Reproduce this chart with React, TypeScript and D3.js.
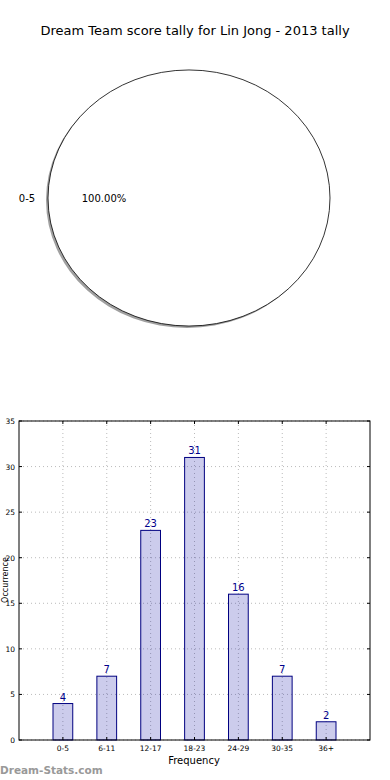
import React from "react";
import * as d3 from "d3";

const title = "Dream Team score tally for Lin Jong - 2013 tally";
const pieLabels = ["0-5"];
const pieValues = [1];
const categories = ["0-5", "6-11", "12-17", "18-23", "24-29", "30-35", "36+"];
const counts = [4, 7, 23, 31, 16, 7, 2];
const yTicks = [0, 5, 10, 15, 20, 25, 30, 35];

export default function App() {
  const W = 390, H = 780;
  const font = "DejaVu Sans, sans-serif";

  // pie
  const cx = 189, cy = 198, rx = 141, ry = 128;
  const pie = d3.pie<number>().sort(null).startAngle(-Math.PI / 2).endAngle(1.5 * Math.PI)(pieValues);
  const arc = d3.arc<d3.PieArcDatum<number>>().innerRadius(0).outerRadius(rx);
  const total = d3.sum(pieValues);

  // bar
  const left = 19, right = 370, top = 421, bottom = 740;
  const x = d3.scaleLinear().domain([-1, categories.length]).range([left, right]);
  const y = d3.scaleLinear().domain([0, 35]).range([bottom, top]);
  const bw = (x(0.45) - x(0));

  return (
    <svg width={W} height={H} style={{ position: "absolute", left: 0, top: 0, background: "#fff" }} fontFamily={font}>
      <rect width={W} height={H} fill="#fff" />
      <text x={195} y={35} textAnchor="middle" fontSize={13} fill="#000">{title}</text>

      {/* pie shadow */}
      <g transform={`translate(${cx - 2},${cy + 2}) scale(1,${ry / rx})`}>
        {pie.map((d, i) => (
          <path key={i} d={arc(d) || ""} fill="#888" opacity={0.8} />
        ))}
      </g>
      <g transform={`translate(${cx},${cy}) scale(1,${ry / rx})`}>
        {pie.map((d, i) => (
          <path key={i} d={arc(d) || ""} fill="#fff" stroke="#000" strokeWidth={0.8} vectorEffect="non-scaling-stroke" />
        ))}
      </g>
      {pie.map((d, i) => (
        <g key={i}>
          <text x={27} y={cy + 4} textAnchor="middle" fontSize={10}>{pieLabels[i]}</text>
          <text x={104} y={cy + 4} textAnchor="middle" fontSize={10}>
            {((pieValues[i] / total) * 100).toFixed(2) + "%"}
          </text>
        </g>
      ))}

      {/* grid */}
      {yTicks.map((t) => (
        <line key={"gy" + t} x1={left} x2={right} y1={y(t)} y2={y(t)} stroke="#bbb" strokeWidth={1} strokeDasharray="1,3" />
      ))}
      {categories.map((c, i) => (
        <line key={"gx" + c} x1={x(i)} x2={x(i)} y1={top} y2={bottom} stroke="#bbb" strokeWidth={1} strokeDasharray="1,3" />
      ))}

      {/* bars */}
      {counts.map((v, i) => (
        <rect key={"b" + i} x={x(i) - bw / 2} y={y(v)} width={bw} height={y(0) - y(v)}
          fill="#0000a0" fillOpacity={0.2} stroke="#000080" strokeWidth={1} />
      ))}
      {counts.map((v, i) => (
        <text key={"l" + i} x={x(i)} y={y(v) - 3} textAnchor="middle" fontSize={10} fill="#00008b">{v}</text>
      ))}

      {/* frame */}
      <rect x={left} y={top} width={right - left} height={bottom - top} fill="none" stroke="#000" strokeWidth={1} />

      {/* y ticks */}
      {yTicks.map((t) => (
        <g key={"yt" + t}>
          <line x1={left} x2={left + 3} y1={y(t)} y2={y(t)} stroke="#000" />
          <line x1={right - 3} x2={right} y1={y(t)} y2={y(t)} stroke="#000" />
          <text x={left - 4} y={y(t) + 3} textAnchor="end" fontSize={7.5}>{t}</text>
        </g>
      ))}
      {categories.map((c, i) => (
        <g key={"xt" + c}>
          <line x1={x(i)} x2={x(i)} y1={bottom} y2={bottom - 3} stroke="#000" />
          <line x1={x(i)} x2={x(i)} y1={top} y2={top + 3} stroke="#000" />
          <text x={x(i)} y={bottom + 11} textAnchor="middle" fontSize={7.5}>{c}</text>
        </g>
      ))}
      <text x={194} y={764} textAnchor="middle" fontSize={10}>Frequency</text>
      <text transform={`translate(8,580) rotate(-90)`} textAnchor="middle" fontSize={8}>Occurrence</text>

      <text x={0} y={774} fontSize={10.5} fontWeight="bold" fill="#999">Dream-Stats.com</text>
    </svg>
  );
}
